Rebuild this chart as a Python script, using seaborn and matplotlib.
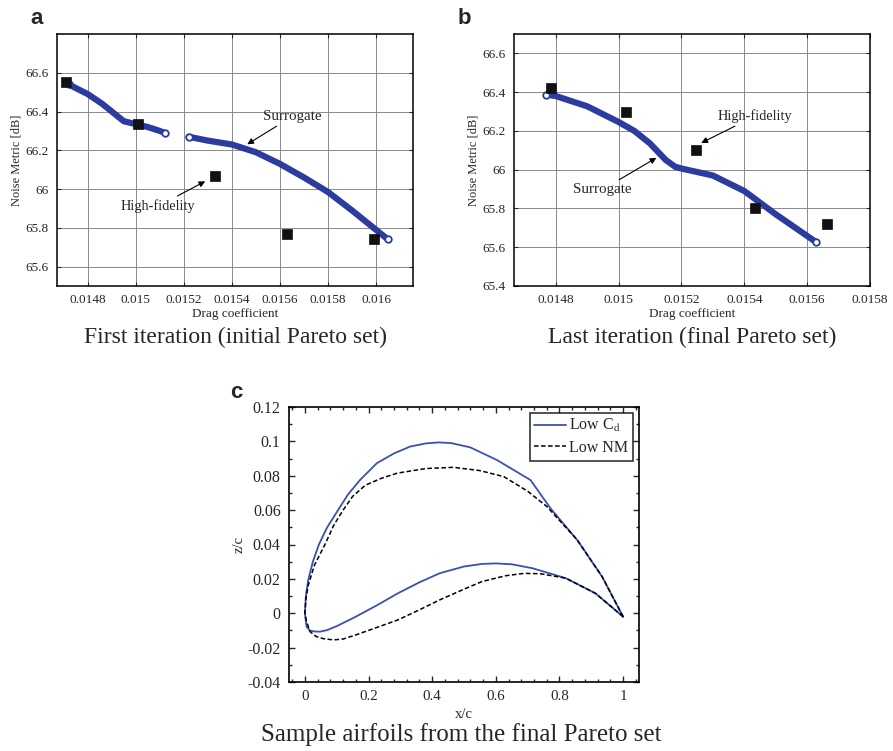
import numpy as np
import pandas as pd
import matplotlib
matplotlib.use("Agg")
import matplotlib.pyplot as plt
from matplotlib.ticker import FuncFormatter, MultipleLocator
import seaborn as sns

# ---------------- data ----------------
# Panel a: first iteration
a_sur1_cd = [0.01472, 0.01480, 0.01486, 0.01491, 0.01495, 0.01500, 0.01505, 0.01510, 0.01512]
a_sur1_nm = [66.54, 66.49, 66.44, 66.39, 66.35, 66.335, 66.32, 66.30, 66.29]
a_sur2_cd = [0.01522, 0.01530, 0.01540, 0.01550, 0.01560, 0.01570, 0.01580, 0.01590, 0.01600, 0.01605]
a_sur2_nm = [66.27, 66.25, 66.23, 66.19, 66.13, 66.06, 65.985, 65.89, 65.79, 65.74]
a_hf_cd = [0.01471, 0.01501, 0.01533, 0.01563, 0.01599]
a_hf_nm = [66.55, 66.335, 66.065, 65.77, 65.74]

# Panel b: last iteration
b_sur_cd = [0.01477, 0.01480, 0.01490, 0.01500, 0.01505, 0.01510, 0.01515, 0.01518, 0.01520,
            0.01530, 0.01540, 0.01545, 0.01550, 0.015627]
b_sur_nm = [66.387, 66.38, 66.327, 66.246, 66.20, 66.135, 66.05, 66.015, 66.006,
            65.97, 65.89, 65.83, 65.77, 65.628]
b_hf_cd = [0.014786, 0.015024, 0.015247, 0.015434, 0.015664]
b_hf_nm = [66.42, 66.30, 66.10, 65.80, 65.72]

# Panel c: airfoils
cd_up_x = [0, 0.003, 0.0105, 0.025, 0.044, 0.07, 0.098, 0.135, 0.173, 0.226, 0.28, 0.331, 0.38,
           0.42, 0.46, 0.52, 0.604, 0.709, 0.772, 0.856, 0.934, 1.0]
cd_up_z = [0, 0.010, 0.0194, 0.030, 0.040, 0.050, 0.0582, 0.069, 0.0775, 0.0873, 0.093, 0.0970, 0.0988,
           0.0994, 0.0990, 0.0965, 0.0891, 0.0775, 0.061, 0.0426, 0.0213, -0.002]
cd_lo_x = [0, 0.005, 0.015, 0.03, 0.048, 0.07, 0.1, 0.16, 0.23, 0.292, 0.36, 0.424, 0.5, 0.556,
           0.6, 0.65, 0.715, 0.82, 0.913, 1.0]
cd_lo_z = [0, -0.0078, -0.0100, -0.0106, -0.0107, -0.0098, -0.0075, -0.002, 0.005, 0.0116, 0.018,
           0.0233, 0.0272, 0.0287, 0.029, 0.0285, 0.0262, 0.0204, 0.0116, -0.002]
nm_up_x = [0, 0.003, 0.01, 0.03, 0.063, 0.09, 0.12, 0.15, 0.19, 0.24, 0.29, 0.38, 0.467, 0.55,
           0.625, 0.70, 0.761, 0.856, 0.934, 1.0]
nm_up_z = [0, 0.008, 0.016, 0.028, 0.040, 0.051, 0.060, 0.068, 0.0745, 0.0785, 0.0815, 0.0842, 0.0849,
           0.083, 0.0795, 0.0710, 0.062, 0.0426, 0.0213, -0.002]
nm_lo_x = [0, 0.004, 0.016, 0.035, 0.058, 0.09, 0.12, 0.16, 0.23, 0.292, 0.36, 0.424, 0.5, 0.556,
           0.63, 0.688, 0.74, 0.82, 0.913, 1.0]
nm_lo_z = [0, -0.004, -0.0107, -0.0135, -0.0148, -0.0155, -0.0150, -0.0126, -0.008, -0.0039, 0.002,
           0.0078, 0.014, 0.0184, 0.0218, 0.0232, 0.0230, 0.0204, 0.0116, -0.002]

# ---------------- style ----------------
sns.set_style("ticks")
plt.rcParams['font.family'] = ['Liberation Serif', 'DejaVu Serif']
plt.rcParams['mathtext.fontset'] = 'stix'

SUR_COL = '#2b3c9e'
FOIL_BLUE = '#3a50b4'

fig = plt.figure(figsize=(8.93, 7.51), dpi=100)
W, H = 893.0, 751.0

def ax_at(x0, y0, x1, y1):
    return fig.add_axes([x0 / W, 1 - y1 / H, (x1 - x0) / W, (y1 - y0) / H])

fmt = FuncFormatter(lambda v, p: ('%g' % round(v, 6)))

def style_grid_axes(ax, xlim, ylim, xticks, yticks):
    ax.set_xlim(*xlim)
    ax.set_ylim(*ylim)
    ax.set_xticks(xticks)
    ax.set_yticks(yticks)
    ax.xaxis.set_major_formatter(fmt)
    ax.yaxis.set_major_formatter(fmt)
    ax.grid(True, color='#8a8a8a', linewidth=0.7)
    ax.set_axisbelow(True)
    ax.tick_params(direction='in', top=True, right=True, labelsize=9.5, length=3, width=0.8, pad=6)
    for s in ax.spines.values():
        s.set_linewidth(1.1)
        s.set_color('black')
    ax.set_xlabel('Drag coefficient', fontsize=9.5, labelpad=1)
    ax.set_ylabel('Noise Metric [dB]', fontsize=9, labelpad=2)

def draw_surrogate(ax, cd, nm):
    df = pd.DataFrame({'cd': cd, 'nm': nm})
    sns.lineplot(data=df, x='cd', y='nm', sort=False, estimator=None, errorbar=None,
                 color=SUR_COL, linewidth=4.5, ax=ax, legend=False, solid_capstyle='round')
    sns.scatterplot(data=df.iloc[[0, -1]], x='cd', y='nm', ax=ax, marker='o', s=22,
                    facecolor='white', edgecolor=SUR_COL, linewidth=1.3, zorder=4, legend=False)

def draw_hf(ax, cd, nm):
    df = pd.DataFrame({'cd': cd, 'nm': nm})
    sns.scatterplot(data=df, x='cd', y='nm', ax=ax, marker='s', s=62, color='#111111',
                    edgecolor='#111111', linewidth=0.5, zorder=5, legend=False)

arrow = dict(arrowstyle='-|>', color='black', lw=0.8, mutation_scale=9, shrinkA=0, shrinkB=0)

# ---------------- panel a ----------------
axa = ax_at(57, 34, 413, 286)
draw_surrogate(axa, a_sur1_cd, a_sur1_nm)
draw_surrogate(axa, a_sur2_cd, a_sur2_nm)
draw_hf(axa, a_hf_cd, a_hf_nm)
style_grid_axes(axa, (0.014672, 0.016154), (65.5, 66.8),
                [0.0148, 0.0150, 0.0152, 0.0154, 0.0156, 0.0158, 0.0160],
                [65.6, 65.8, 66.0, 66.2, 66.4, 66.6])
axa.annotate('Surrogate', xy=(0.015464, 66.231), xytext=(0.01553, 66.375),
             fontsize=10.8, ha='left', va='center', arrowprops=arrow)
axa.annotate('High-fidelity', xy=(0.015289, 66.04), xytext=(0.015093, 65.912),
             fontsize=10.3, ha='center', va='center', arrowprops=arrow)
fig.text(37 / W, 1 - 18 / H, 'a', fontsize=16, fontweight='bold',
         family=['Liberation Sans', 'DejaVu Sans'], ha='center', va='center')
fig.text(235 / W, 1 - 337 / H, 'First iteration (initial Pareto set)', fontsize=17,
         ha='center', va='center')

# ---------------- panel b ----------------
axb = ax_at(514, 34, 870, 286)
draw_surrogate(axb, b_sur_cd, b_sur_nm)
draw_hf(axb, b_hf_cd, b_hf_nm)
style_grid_axes(axb, (0.014667, 0.0158), (65.4, 66.7),
                [0.0148, 0.0150, 0.0152, 0.0154, 0.0156, 0.0158],
                [65.4, 65.6, 65.8, 66.0, 66.2, 66.4, 66.6])
axb.annotate('High-fidelity', xy=(0.015263, 66.138), xytext=(0.015435, 66.277),
             fontsize=10.3, ha='center', va='center', arrowprops=arrow)
axb.annotate('Surrogate', xy=(0.01512, 66.061), xytext=(0.014949, 65.898),
             fontsize=10.8, ha='center', va='center', arrowprops=arrow)
fig.text(464 / W, 1 - 18 / H, 'b', fontsize=16, fontweight='bold',
         family=['Liberation Sans', 'DejaVu Sans'], ha='center', va='center')
fig.text(692 / W, 1 - 337 / H, 'Last iteration (final Pareto set)', fontsize=17,
         ha='center', va='center')

# ---------------- panel c ----------------
axc = ax_at(289, 407, 639, 682)
cd_x = cd_up_x[::-1] + cd_lo_x[1:]
cd_z = cd_up_z[::-1] + cd_lo_z[1:]
nm_x = nm_up_x[::-1] + nm_lo_x[1:]
nm_z = nm_up_z[::-1] + nm_lo_z[1:]
df_cd = pd.DataFrame({'x': cd_x, 'z': cd_z})
df_nm = pd.DataFrame({'x': nm_x, 'z': nm_z})
sns.lineplot(data=df_cd, x='x', y='z', sort=False, estimator=None, errorbar=None, ax=axc,
             color=FOIL_BLUE, linewidth=1.3, label='Low C$_\\mathrm{d}$')
sns.lineplot(data=df_nm, x='x', y='z', sort=False, estimator=None, errorbar=None, ax=axc,
             color='black', linewidth=1.1, linestyle=(0, (3, 1.6)), label='Low NM')
axc.set_xlim(-0.05, 1.05)
axc.set_ylim(-0.04, 0.12)
axc.set_xticks([0, 0.2, 0.4, 0.6, 0.8, 1.0])
axc.set_yticks([-0.04, -0.02, 0, 0.02, 0.04, 0.06, 0.08, 0.1, 0.12])
axc.xaxis.set_major_formatter(fmt)
axc.yaxis.set_major_formatter(fmt)
axc.xaxis.set_minor_locator(MultipleLocator(0.04))
axc.yaxis.set_minor_locator(MultipleLocator(0.01))
axc.tick_params(which='both', direction='in', top=True, right=True, width=1.0)
axc.tick_params(which='major', length=4, pad=6)
axc.tick_params(axis='y', which='major', labelsize=11.5)
axc.tick_params(axis='x', which='major', labelsize=10.8)
axc.tick_params(which='minor', length=2.5)
for s in axc.spines.values():
    s.set_linewidth(1.2)
    s.set_color('black')
axc.set_xlabel('x/c', fontsize=10.5, labelpad=3)
axc.set_ylabel('z/c', fontsize=10.5, labelpad=1)
leg = axc.legend(loc='upper right', fontsize=11.5, frameon=True, fancybox=False,
                 edgecolor='black', handlelength=2.0, handletextpad=0.2,
                 borderpad=0.3, labelspacing=0.35, borderaxespad=0.35)
leg.get_frame().set_linewidth(1.2)
fig.text(236 / W, 1 - 392 / H, 'c', fontsize=16, fontweight='bold',
         family=['Liberation Sans', 'DejaVu Sans'], ha='center', va='center')
fig.text(461 / W, 1 - 735 / H, 'Sample airfoils from the final Pareto set', fontsize=18,
         ha='center', va='center')

fig.savefig('out.png', dpi=100)
